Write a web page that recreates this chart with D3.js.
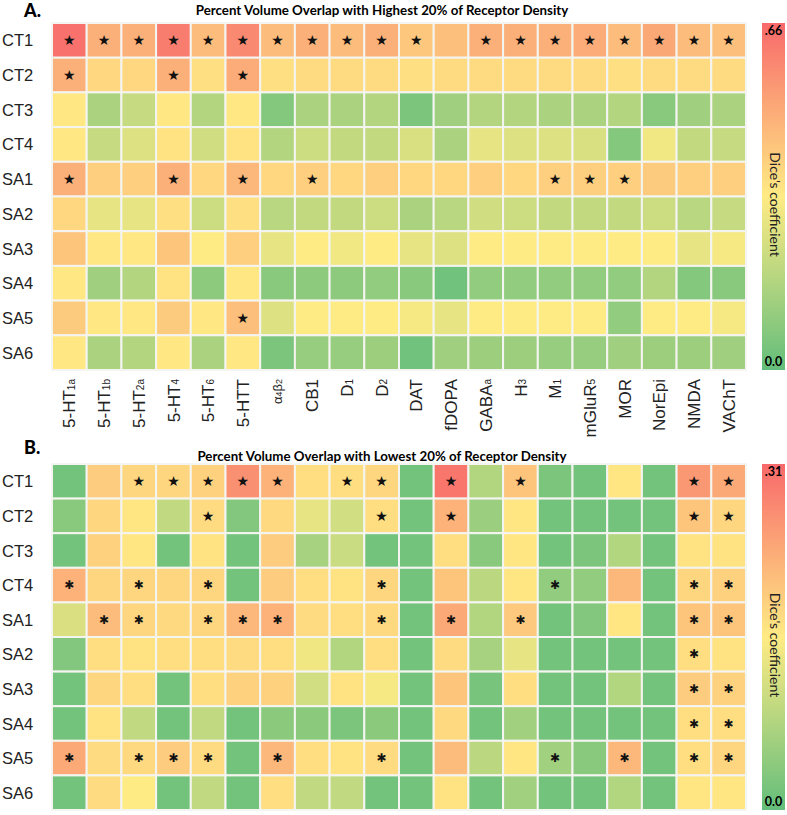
<!DOCTYPE html>
<html>
<head>
<meta charset="utf-8">
<script src="https://cdn.jsdelivr.net/npm/d3@7"></script>
<style>
  html, body { margin: 0; padding: 0; background: #fff; }
  svg { display: block; }
</style>
</head>
<body>
<svg id="chart" width="787" height="815"></svg>
<script>
// ---------- DATA ----------
const regions = ["CT1","CT2","CT3","CT4","SA1","SA2","SA3","SA4","SA5","SA6"];
const receptors = ["5-HT1a","5-HT1b","5-HT2a","5-HT4","5-HT6","5-HTT","α4β2","CB1","D1","D2",
                   "DAT","fDOPA","GABAa","H3","M1","mGluR5","MOR","NorEpi","NMDA","VAChT"];
// label parts: [main, subscript]
const labelParts = [["5-HT","1a"],["5-HT","1b"],["5-HT","2a"],["5-HT","4"],["5-HT","6"],["5-HTT",""],
                    ["α4β2",""],["CB1",""],["D","1"],["D","2"],["DAT",""],["fDOPA",""],["GABA","a"],
                    ["H","3"],["M","1"],["mGluR","5"],["MOR",""],["NorEpi",""],["NMDA",""],["VAChT",""]];

const titleA = "Percent Volume Overlap with Highest 20% of Receptor Density";
const titleB = "Percent Volume Overlap with Lowest 20% of Receptor Density";
const maxA = 0.66, maxB = 0.31;
const tickLabelsA = [".66", "0.0"];
const tickLabelsB = [".31", "0.0"];
const legendTitle = "Dice's coefficient";

// Dice coefficients, panel A (highest 20%)
const diceHigh = [
  [0.64,0.48,0.48,0.61,0.45,0.58,0.45,0.48,0.45,0.48,0.42,0.44,0.48,0.48,0.48,0.49,0.45,0.50,0.45,0.44],
  [0.48,0.38,0.38,0.48,0.36,0.49,0.36,0.37,0.37,0.37,0.36,0.37,0.37,0.37,0.37,0.37,0.36,0.37,0.37,0.37],
  [0.34,0.15,0.21,0.34,0.17,0.34,0.07,0.15,0.15,0.17,0.05,0.13,0.17,0.17,0.15,0.15,0.17,0.08,0.13,0.15],
  [0.34,0.21,0.26,0.35,0.23,0.35,0.17,0.22,0.20,0.20,0.25,0.15,0.28,0.26,0.26,0.25,0.07,0.30,0.20,0.21],
  [0.48,0.40,0.40,0.48,0.38,0.46,0.38,0.40,0.38,0.40,0.38,0.38,0.40,0.38,0.40,0.40,0.40,0.41,0.40,0.40],
  [0.38,0.28,0.28,0.36,0.22,0.36,0.18,0.20,0.20,0.22,0.15,0.18,0.23,0.22,0.20,0.20,0.20,0.22,0.18,0.21],
  [0.43,0.34,0.34,0.43,0.33,0.40,0.28,0.33,0.30,0.33,0.28,0.26,0.33,0.33,0.33,0.33,0.33,0.33,0.28,0.31],
  [0.34,0.13,0.17,0.35,0.09,0.34,0.08,0.09,0.09,0.10,0.08,0.03,0.10,0.10,0.10,0.10,0.10,0.17,0.07,0.08],
  [0.41,0.34,0.34,0.41,0.34,0.44,0.26,0.33,0.33,0.33,0.31,0.28,0.33,0.33,0.33,0.33,0.10,0.33,0.33,0.31],
  [0.34,0.15,0.17,0.34,0.15,0.34,0.05,0.11,0.11,0.12,0.03,0.13,0.12,0.12,0.11,0.11,0.13,0.12,0.12,0.13]
];
// Dice coefficients, panel B (lowest 20%)
const diceLow = [
  [0.016,0.192,0.180,0.180,0.186,0.264,0.223,0.171,0.171,0.180,0.016,0.295,0.078,0.202,0.025,0.016,0.161,0.016,0.254,0.233],
  [0.037,0.180,0.161,0.093,0.174,0.031,0.177,0.130,0.109,0.171,0.016,0.223,0.056,0.161,0.016,0.016,0.016,0.016,0.202,0.180],
  [0.016,0.186,0.161,0.016,0.164,0.016,0.192,0.068,0.102,0.016,0.016,0.171,0.037,0.161,0.016,0.025,0.078,0.016,0.164,0.164],
  [0.223,0.180,0.180,0.180,0.180,0.016,0.192,0.171,0.164,0.180,0.016,0.202,0.087,0.161,0.047,0.047,0.217,0.016,0.180,0.186],
  [0.118,0.211,0.180,0.177,0.180,0.217,0.223,0.174,0.171,0.177,0.016,0.233,0.078,0.195,0.016,0.031,0.161,0.016,0.202,0.202],
  [0.031,0.171,0.164,0.171,0.171,0.174,0.171,0.140,0.078,0.171,0.016,0.174,0.068,0.130,0.016,0.016,0.016,0.016,0.171,0.164],
  [0.016,0.180,0.171,0.016,0.171,0.186,0.186,0.109,0.164,0.146,0.016,0.202,0.022,0.171,0.016,0.016,0.078,0.016,0.192,0.186],
  [0.016,0.164,0.093,0.016,0.093,0.016,0.040,0.040,0.025,0.040,0.016,0.177,0.016,0.062,0.016,0.016,0.016,0.016,0.171,0.171],
  [0.233,0.174,0.177,0.192,0.174,0.016,0.217,0.171,0.164,0.174,0.016,0.211,0.087,0.161,0.062,0.037,0.217,0.016,0.171,0.180],
  [0.016,0.174,0.155,0.016,0.093,0.016,0.171,0.093,0.093,0.016,0.016,0.164,0.016,0.062,0.016,0.016,0.078,0.016,0.161,0.161]
];
// significant cells (column indices per region)
const sigHigh = {
  CT1: [0,1,2,3,4,5,6,7,8,9,10,12,13,14,15,16,17,18,19],
  CT2: [0,3,5],
  SA1: [0,3,5,7,14,15,16],
  SA5: [5]
};
const sigLow = {
  CT1: [2,3,4,5,6,8,9,11,13,18,19],
  CT2: [4,9,11,18,19],
  CT4: [0,2,4,9,14,18,19],
  SA1: [1,2,4,5,6,9,11,13,18,19],
  SA2: [18],
  SA3: [18,19],
  SA4: [18,19],
  SA5: [0,2,3,4,6,9,14,16,18,19]
};

// ---------- DRAW ----------
const svg = d3.select("#chart");
const colorStops = ["#63be7b", "#ffeb84", "#f8696b"];
const sansFont = "'Liberation Sans', Arial, sans-serif";
const boldFont = "Lato, 'Open Sans', sans-serif";

const x = d3.scaleBand().domain(receptors).range([52, 746]);

function panel(opts) {
  const {values, sig, max, top, bottom, title, letter, letterY, titleY, ticks, gradId, starSym} = opts;
  const y = d3.scaleBand().domain(regions).range([top, bottom]);
  const color = d3.scaleLinear().domain([0, max / 2, max]).range(colorStops);
  const g = svg.append("g");

  g.append("text").attr("x", 24).attr("y", letterY)
    .style("font-family", boldFont).style("font-weight", "900").style("font-size", "18px")
    .text(letter);
  g.append("text").attr("x", 382).attr("y", titleY).attr("text-anchor", "middle")
    .style("font-family", boldFont).style("font-weight", "bold").style("font-size", "13.3px")
    .text(title);

  const cells = [];
  regions.forEach((r, i) => receptors.forEach((c, j) => {
    cells.push({r, c, v: values[i][j], s: (sig[r] || []).includes(j)});
  }));

  g.selectAll("rect.cell").data(cells).join("rect")
    .attr("class", "cell")
    .attr("x", d => x(d.c)).attr("y", d => y(d.r))
    .attr("width", x.bandwidth()).attr("height", y.bandwidth())
    .attr("fill", d => color(d.v))
    .attr("stroke", "#f4f4f0").attr("stroke-width", 2);

  g.selectAll("text.star").data(cells.filter(d => d.s)).join("text")
    .attr("class", "star")
    .attr("x", d => x(d.c) + x.bandwidth() / 2)
    .attr("y", d => y(d.r) + y.bandwidth() / 2)
    .attr("text-anchor", "middle").attr("dominant-baseline", "central")
    .style("font-family", "'DejaVu Sans', sans-serif")
    .style("font-size", d => starSym(d.r) === "★" ? "14px" : "12px").attr("fill", "#111")
    .text(d => starSym(d.r));

  // row labels
  g.selectAll("text.row").data(regions).join("text")
    .attr("class", "row")
    .attr("x", 2).attr("y", d => y(d) + y.bandwidth() / 2)
    .attr("dominant-baseline", "central")
    .style("font-family", sansFont).style("font-size", "16.5px").attr("fill", "#222")
    .text(d => d);

  // colour bar
  const defs = svg.append("defs");
  const grad = defs.append("linearGradient").attr("id", gradId)
    .attr("x1", 0).attr("y1", 1).attr("x2", 0).attr("y2", 0);
  colorStops.forEach((c, k) => grad.append("stop").attr("offset", (k / 2 * 100) + "%").attr("stop-color", c));
  g.append("rect").attr("x", 762).attr("y", top).attr("width", 23).attr("height", bottom - top)
    .attr("fill", `url(#${gradId})`);
  g.append("text").attr("x", 773.5).attr("y", top + 12).attr("text-anchor", "middle")
    .style("font-family", boldFont).style("font-weight", "bold").style("font-size", "12.5px")
    .text(ticks[0]);
  g.append("text").attr("x", 773.5).attr("y", bottom - 4).attr("text-anchor", "middle")
    .style("font-family", boldFont).style("font-weight", "bold").style("font-size", "12.5px")
    .text(ticks[1]);
  const midY = (top + bottom) / 2 + 8;
  g.append("text").attr("transform", `translate(769.5,${midY}) rotate(90)`)
    .attr("text-anchor", "middle")
    .style("font-family", boldFont).style("font-size", "14px").attr("fill", "#222")
    .text(legendTitle);
  return y;
}

panel({values: diceHigh, sig: sigHigh, max: maxA, top: 23, bottom: 370, title: titleA,
       letter: "A.", letterY: 17, titleY: 15, ticks: tickLabelsA, gradId: "gA",
       starSym: () => "★"});
panel({values: diceLow, sig: sigLow, max: maxB, top: 464, bottom: 810, title: titleB,
       letter: "B.", letterY: 454, titleY: 461, ticks: tickLabelsB, gradId: "gB",
       starSym: r => (r === "CT1" || r === "CT2") ? "★" : "✱"});

// column labels (between the panels)
const lab = svg.append("g");
receptors.forEach((rc, j) => {
  const [main, sub] = labelParts[j];
  const cx = x(rc) + x.bandwidth() / 2;
  const t = lab.append("text")
    .attr("transform", `translate(${cx},379) rotate(-90)`)
    .attr("text-anchor", "end").attr("dy", "0.36em")
    .style("font-family", sansFont).style("font-size", main === "α4β2" ? "13px" : "17px")
    .attr("fill", "#222");
  if (main === "α4β2") {
    t.append("tspan").text("α");
    t.append("tspan").style("font-size", "9px").text("4");
    t.append("tspan").text("β");
    t.append("tspan").style("font-size", "9px").text("2");
  } else {
    t.append("tspan").text(main);
    if (sub) t.append("tspan").style("font-size", "10px").attr("dy", "-0.05em").text(sub);
  }
});
</script>
</body>
</html>
